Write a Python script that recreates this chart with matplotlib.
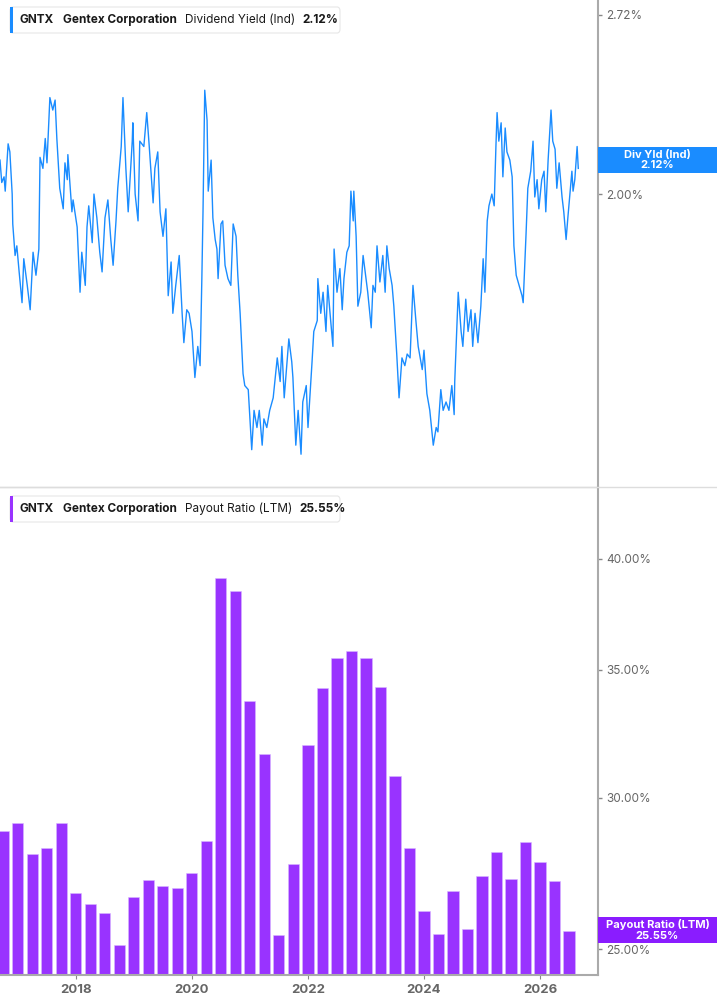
import matplotlib
matplotlib.use("Agg")
import matplotlib.pyplot as plt
import numpy as np
from matplotlib.ticker import FixedLocator, NullLocator
from matplotlib.patches import FancyBboxPatch, Rectangle

plt.rcParams['font.family'] = ['Inter', 'DejaVu Sans']

# ---- data: dividend yield (decimal years since 2000, percent)
yld_dates = [16.69,16.72,16.76,16.78,16.83,16.86,16.90,16.91,16.95,16.98,17.02,17.07,17.10,17.16,17.21,17.26,17.31,17.36,17.38,17.43,17.47,17.50,17.55,17.60,17.64,17.67,17.72,17.78,17.81,17.85,17.86,17.93,17.95,18.02,18.07,18.10,18.16,18.19,18.22,18.28,18.31,18.36,18.41,18.45,18.50,18.55,18.60,18.64,18.69,18.72,18.78,18.81,18.86,18.90,18.97,18.98,19.02,19.07,19.10,19.17,19.22,19.26,19.33,19.36,19.41,19.45,19.50,19.55,19.59,19.64,19.67,19.72,19.78,19.83,19.86,19.91,19.95,20.00,20.05,20.10,20.14,20.17,20.19,20.22,20.26,20.28,20.33,20.36,20.40,20.43,20.45,20.50,20.53,20.57,20.62,20.67,20.71,20.76,20.79,20.83,20.88,20.91,20.97,21.03,21.07,21.12,21.16,21.21,21.24,21.29,21.34,21.40,21.47,21.52,21.55,21.59,21.64,21.67,21.72,
             21.74,21.79,21.83,21.88,21.91,21.97,22.00,22.07,22.10,22.16,22.17,22.22,22.26,22.31,22.34,22.38,22.43,22.45,22.50,22.55,22.59,22.62,22.67,22.71,22.74,22.78,22.79,22.83,22.86,22.91,22.95,23.00,23.03,23.09,23.12,23.16,23.19,23.24,23.29,23.33,23.36,23.40,23.45,23.48,23.53,23.57,23.62,23.67,23.71,23.76,23.81,23.86,23.90,23.97,24.00,24.05,24.10,24.16,24.21,24.24,24.29,24.33,24.38,24.43,24.48,24.52,24.53,24.59,24.64,24.67,24.72,24.76,24.81,24.84,24.88,24.93,24.98,25.02,25.05,25.09,25.12,25.17,25.21,25.24,25.26,25.29,25.33,25.36,25.40,25.43,25.48,25.52,25.55,25.59,25.64,25.69,25.71,25.76,25.79,25.84,25.88,25.91,25.95,25.98,26.03,26.07,26.10,26.14,26.19,26.22,26.26,26.29,26.33,26.38,26.41,26.45,26.48,26.52,26.55,26.57,26.60,26.64,26.66]
yld_values = [2.12,2.04,2.06,2.01,2.18,2.15,2.00,1.90,1.80,1.83,1.75,1.66,1.79,1.71,1.64,1.81,1.74,1.82,2.13,2.09,2.20,2.11,2.36,2.31,2.35,2.20,2.02,1.95,2.11,2.05,2.14,1.94,1.98,1.89,1.69,1.81,1.71,1.89,1.96,1.84,2.00,1.92,1.81,1.75,1.92,1.98,1.85,1.77,1.91,2.02,2.17,2.36,2.09,1.94,2.19,2.26,2.00,1.91,2.19,2.17,2.30,2.18,1.97,2.09,2.15,1.94,1.86,1.95,1.68,1.78,1.63,1.71,1.80,1.63,1.55,1.64,1.63,1.58,1.46,1.54,1.49,1.73,1.94,2.39,2.27,2.01,2.12,1.92,1.85,1.82,1.73,1.90,1.91,1.77,1.73,1.71,1.90,1.86,1.74,1.63,1.47,1.44,1.43,1.29,1.38,1.34,1.38,1.30,1.36,1.34,1.38,1.41,1.51,1.45,1.54,1.41,1.50,1.56,1.50,
              1.46,1.30,1.38,1.28,1.40,1.44,1.34,1.50,1.58,1.61,1.73,1.63,1.69,1.58,1.71,1.63,1.54,1.82,1.69,1.76,1.64,1.73,1.81,1.83,2.01,1.91,2.01,1.86,1.65,1.69,1.80,1.73,1.69,1.59,1.71,1.69,1.83,1.72,1.80,1.69,1.83,1.76,1.71,1.65,1.52,1.41,1.51,1.49,1.52,1.51,1.71,1.61,1.54,1.48,1.53,1.42,1.38,1.30,1.34,1.33,1.43,1.38,1.40,1.38,1.44,1.37,1.45,1.69,1.58,1.54,1.67,1.58,1.64,1.54,1.63,1.55,1.65,1.79,1.69,1.91,1.96,2.00,1.96,2.17,2.30,2.19,2.26,2.06,2.24,2.15,2.12,2.06,1.83,1.74,1.71,1.68,1.66,1.87,2.02,2.08,2.19,1.99,2.05,1.95,2.05,2.08,1.94,2.12,2.31,2.19,2.16,2.02,2.11,1.99,1.94,1.85,1.92,2.01,2.08,2.01,2.05,2.17,2.09]

# ---- data: payout ratio (quarterly)
pay_start = 2016.75
pay_values = [28.82,29.09,28.04,28.23,29.12,26.75,26.39,26.12,25.13,26.62,27.16,26.99,26.90,27.39,28.47,39.08,38.47,33.72,31.64,25.44,27.70,31.95,34.24,35.48,35.78,35.48,34.27,30.78,28.25,26.18,25.47,26.82,25.63,27.30,28.10,27.22,28.43,27.77,27.15,25.56]
pay_dates = [pay_start + 0.25 * i for i in range(len(pay_values))]

yld_ticks = [2.00, 2.72]
pay_ticks = [25.0, 30.0, 35.0, 40.0]
year_ticks = [2018, 2020, 2022, 2024, 2026]

LINE = '#1a8cff'
BAR = '#9933ff'
GREY = '#666666'

W, H = 717, 1005
fig = plt.figure(figsize=(W/100, H/100), dpi=100)
axR = 598 / W
ax1 = fig.add_axes([0, 1 - 487/H, axR, 487/H])
ax2 = fig.add_axes([0, 1 - 975/H, axR, (975-487)/H])

xlim = (2016.69, 2027.0)

# top
ax1.plot([d + 2000 for d in yld_dates], yld_values, color=LINE, lw=1.0)
ax1.set_yscale('log')
ax1.set_ylim(1.21, 2.79)
ax1.set_xlim(*xlim)

# bottom
ax2.bar(pay_dates, pay_values, width=0.19, color=BAR, edgecolor='#d9b8ff', linewidth=0.4, bottom=0)
ax2.set_yscale('log')
ax2.set_ylim(24.24, 43.6)
ax2.set_xlim(*xlim)

for ax in (ax1, ax2):
    for s in ('left', 'top'):
        ax.spines[s].set_visible(False)
    ax.spines['right'].set_color('#aaaaaa')
    ax.spines['right'].set_linewidth(1.5)
    ax.yaxis.tick_right()
    ax.yaxis.set_minor_locator(NullLocator())
    ax.tick_params(axis='y', which='major', length=3, width=1, color='#888888',
                   labelsize=8.5, labelcolor=GREY, pad=3)
    ax.patch.set_alpha(0)

ax1.spines['bottom'].set_color('#dddddd')
ax1.spines['bottom'].set_linewidth(1)
ax1.set_xticks([])
ax1.yaxis.set_major_locator(FixedLocator(yld_ticks))
ax1.set_yticklabels([f'{t:.2f}%' for t in yld_ticks])

ax2.spines['bottom'].set_color('#aaaaaa')
ax2.spines['bottom'].set_linewidth(1.5)
ax2.yaxis.set_major_locator(FixedLocator(pay_ticks))
ax2.set_yticklabels([f'{t:.2f}%' for t in pay_ticks])
ax2.set_xticks(year_ticks)
ax2.set_xticklabels([str(y) for y in year_ticks], fontweight='bold')
ax2.tick_params(axis='x', length=3, color='#888888', labelsize=9.5, labelcolor=GREY)

# separator line across full width
fig.add_artist(plt.Line2D([0, 1], [1 - 487/H, 1 - 487/H], color='#dddddd', lw=1))

# right side value labels
def value_box(ax, val, text, color, yoff_px=0):
    y = ax.transData.transform((xlim[1], val))[1] / H
    h = 26 / H
    fig.add_artist(Rectangle((axR, y - h/2), 1 - axR, h, transform=fig.transFigure,
                             facecolor=color, edgecolor='none'))
    fig.text((axR + 1) / 2, y, text, ha='center', va='center', color='white',
             fontsize=8, fontweight='bold', linespacing=1.1)

value_box(ax1, 2.12, 'Div Yld (Ind)\n2.12%', LINE)
fig.canvas.draw()
# payout ratio box positioned at reported level
y_box = 1 - 930/H
h = 26 / H
fig.add_artist(Rectangle((axR, y_box - h/2), 1 - axR, h, transform=fig.transFigure,
                         facecolor='#8a1cff', edgecolor='none'))
fig.text((axR + 1) / 2, y_box, 'Payout Ratio (LTM)\n25.55%', ha='center', va='center',
         color='white', fontsize=8, fontweight='bold', linespacing=1.1)

# legends
def legend(ypx, parts, color, width_px):
    x0, y0 = 10 / W, 1 - (ypx + 13) / H
    fig.add_artist(FancyBboxPatch((x0, y0), width_px / W, 26 / H, transform=fig.transFigure,
                                  boxstyle='round,pad=0,rounding_size=0.004',
                                  facecolor='white', edgecolor='#e6e6e6', lw=0.8))
    fig.add_artist(Rectangle((x0, y0), 3 / W, 26 / H, transform=fig.transFigure,
                             facecolor=color, edgecolor='none'))
    x = 20
    for txt, bold, gap in parts:
        t = fig.text(x / W, 1 - ypx / H, txt, ha='left', va='center', fontsize=8.5,
                     fontweight='bold' if bold else 'normal', color='#1a1a1a')
        fig.canvas.draw()
        bb = t.get_window_extent()
        x += bb.width + gap

legend(20, [('GNTX', True, 9), ('Gentex Corporation', True, 8),
            ('Dividend Yield (Ind)', False, 7), ('2.12%', True, 0)], LINE, 330)
legend(509, [('GNTX', True, 9), ('Gentex Corporation', True, 8),
             ('Payout Ratio (LTM)', False, 7), ('25.55%', True, 0)], BAR, 330)

fig.savefig('out.png', dpi=100)
